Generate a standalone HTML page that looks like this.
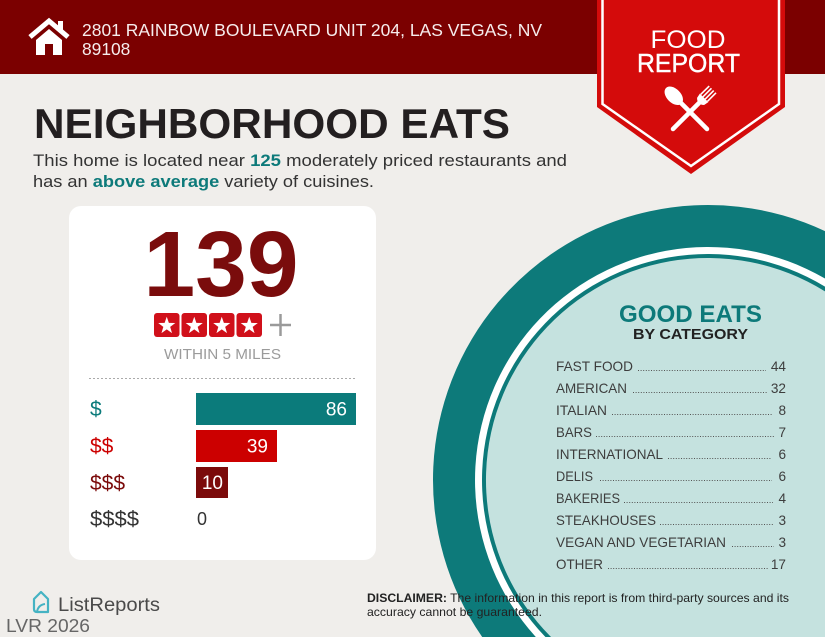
<!DOCTYPE html>
<html><head><meta charset="utf-8"><style>
html,body{margin:0;padding:0;background:#f0eeeb;width:825px;height:637px;overflow:hidden;}
svg{display:block;font-family:"Liberation Sans",sans-serif;}
</style></head><body>
<svg width="825" height="637" viewBox="0 0 825 637" xmlns="http://www.w3.org/2000/svg">
<rect x="0" y="0" width="825" height="637" fill="#f0eeeb"/>
<!-- circle (clipped to frame) -->
<path d="M825,231.13 A275,275 0 0 0 482.22,637 L825,637 Z" fill="#0d7a7a"/>
<path d="M825,278.51 A233,233 0 0 0 535.84,637 L825,637 Z" fill="#ffffff"/>
<path d="M825,286.64 A226,226 0 0 0 545.44,637 L825,637 Z" fill="#0d7a7a"/>
<path d="M825,291.33 A222,222 0 0 0 551.04,637 L825,637 Z" fill="#c5e2df"/>
<!-- header -->
<rect x="0" y="0" width="825" height="74" fill="#7b0000"/>
<!-- house icon -->
<polyline points="30,37 49,21 68,37" fill="none" stroke="#fff" stroke-width="5"/>
<rect x="58" y="21" width="5" height="9" fill="#fff"/>
<polygon points="36,40 49,29 62,40 62,55 53,55 53,44 45,44 45,55 36,55" fill="#fff"/>
<text x="82" y="36" font-size="17.4" fill="#f6ecec" textLength="460" lengthAdjust="spacingAndGlyphs">2801 RAINBOW BOULEVARD UNIT 204, LAS VEGAS, NV</text>
<text x="82" y="55" font-size="17.4" fill="#f6ecec">89108</text>
<!-- banner -->
<polygon points="597,0 785,0 785,107 691,174 597,107" fill="#d40b0b"/>
<polyline points="602.5,0 602.5,104 691,166 779,104 779,0" fill="none" stroke="#fff" stroke-width="2.5"/>
<text x="688" y="48" font-size="25" fill="#fff" text-anchor="middle" textLength="75" lengthAdjust="spacingAndGlyphs">FOOD</text>
<text x="688.5" y="72" font-size="25.5" fill="#fff" text-anchor="middle" textLength="103" lengthAdjust="spacingAndGlyphs" stroke="#fff" stroke-width="0.4">REPORT</text>
<!-- spoon -->
<g transform="translate(707,129) rotate(-45)" fill="#fff">
<line x1="0" y1="0" x2="0" y2="-38" stroke="#fff" stroke-width="4.5" stroke-linecap="round"/>
<ellipse cx="0" cy="-47" rx="7" ry="11"/>
</g>
<!-- fork -->
<g transform="translate(673,129) rotate(45)" fill="#fff" stroke="#fff">
<line x1="0" y1="0" x2="0" y2="-38" stroke-width="4.5" stroke-linecap="round"/>
<path d="M-6,-44 L6,-44 L5,-39 Q0,-34 -5,-39 Z" stroke="none"/>
<line x1="-4.8" y1="-44" x2="-4.8" y2="-56" stroke-width="1.6"/>
<line x1="-1.6" y1="-44" x2="-1.6" y2="-56" stroke-width="1.6"/>
<line x1="1.6" y1="-44" x2="1.6" y2="-56" stroke-width="1.6"/>
<line x1="4.8" y1="-44" x2="4.8" y2="-56" stroke-width="1.6"/>
</g>
<!-- title -->
<text x="34" y="138" font-size="42" font-weight="bold" fill="#231f20" textLength="476" lengthAdjust="spacingAndGlyphs">NEIGHBORHOOD EATS</text>
<text x="33" y="166" font-size="17" fill="#333" textLength="534" lengthAdjust="spacingAndGlyphs">This home is located near <tspan font-weight="bold" fill="#0d7a7a">125</tspan> moderately priced restaurants and</text>
<text x="33" y="187" font-size="17" fill="#333" textLength="341" lengthAdjust="spacingAndGlyphs">has an <tspan font-weight="bold" fill="#0d7a7a">above average</tspan> variety of cuisines.</text>
<!-- card -->
<rect x="69" y="206" width="307" height="354" rx="12" fill="#ffffff"/>
<text x="221" y="296" font-size="93" font-weight="bold" fill="#7a0c0c" text-anchor="middle" textLength="155" lengthAdjust="spacingAndGlyphs">139</text>
<g fill="#d0101a">
<rect x="154" y="313" width="25.5" height="24" rx="3"/>
<rect x="181.5" y="313" width="25.5" height="24" rx="3"/>
<rect x="209" y="313" width="25.5" height="24" rx="3"/>
<rect x="236.5" y="313" width="25.5" height="24" rx="3"/>
</g>
<g fill="#fff">
<polygon transform="translate(166.75,325.8)" points="0,-9 2.12,-2.91 8.56,-2.78 3.42,1.11 5.29,7.28 0,3.6 -5.29,7.28 -3.42,1.11 -8.56,-2.78 -2.12,-2.91"/>
<polygon transform="translate(194.25,325.8)" points="0,-9 2.12,-2.91 8.56,-2.78 3.42,1.11 5.29,7.28 0,3.6 -5.29,7.28 -3.42,1.11 -8.56,-2.78 -2.12,-2.91"/>
<polygon transform="translate(221.75,325.8)" points="0,-9 2.12,-2.91 8.56,-2.78 3.42,1.11 5.29,7.28 0,3.6 -5.29,7.28 -3.42,1.11 -8.56,-2.78 -2.12,-2.91"/>
<polygon transform="translate(249.25,325.8)" points="0,-9 2.12,-2.91 8.56,-2.78 3.42,1.11 5.29,7.28 0,3.6 -5.29,7.28 -3.42,1.11 -8.56,-2.78 -2.12,-2.91"/>
</g>
<line x1="270" y1="325" x2="291" y2="325" stroke="#9a9a9a" stroke-width="2.5"/>
<line x1="280.5" y1="314" x2="280.5" y2="336" stroke="#9a9a9a" stroke-width="2.5"/>
<text x="222.5" y="359" font-size="15" fill="#9b9b9b" text-anchor="middle" textLength="117" lengthAdjust="spacingAndGlyphs">WITHIN 5 MILES</text>
<line x1="89" y1="378.5" x2="356" y2="378.5" stroke="#aaa" stroke-width="1" stroke-dasharray="2 2"/>
<!-- bars -->
<rect x="196" y="393" width="160" height="32" fill="#0b7b7b"/>
<rect x="196" y="430" width="81" height="32" fill="#cc0000"/>
<rect x="196" y="467" width="32" height="31" fill="#7b0a0a"/>
<text x="347" y="415.5" font-size="19" fill="#fff" text-anchor="end">86</text>
<text x="268" y="452.5" font-size="19" fill="#fff" text-anchor="end">39</text>
<text x="223" y="489" font-size="19" fill="#fff" text-anchor="end">10</text>
<text x="197" y="525" font-size="18" fill="#333">0</text>
<text x="90" y="416" font-size="21" fill="#0b7b7b">$</text>
<text x="90" y="453" font-size="21" fill="#cc0000">$$</text>
<text x="90" y="490" font-size="21" fill="#7b0a0a">$$$</text>
<text x="90" y="526" font-size="21" fill="#333" textLength="49" lengthAdjust="spacingAndGlyphs">$$$$</text>
<!-- good eats -->
<text x="690.5" y="322" font-size="24" font-weight="bold" fill="#0d7a7a" text-anchor="middle" textLength="143" lengthAdjust="spacingAndGlyphs">GOOD EATS</text>
<text x="690.5" y="339" font-size="15" font-weight="bold" fill="#222" text-anchor="middle" textLength="115" lengthAdjust="spacingAndGlyphs">BY CATEGORY</text>
<g font-size="13.6" fill="#3d3d3d">
<text x="556" y="371" textLength="77" lengthAdjust="spacingAndGlyphs">FAST FOOD</text>
<text x="786" y="371" text-anchor="end">44</text>
<text x="556" y="393" textLength="71" lengthAdjust="spacingAndGlyphs">AMERICAN</text>
<text x="786" y="393" text-anchor="end">32</text>
<text x="556" y="415" textLength="51" lengthAdjust="spacingAndGlyphs">ITALIAN</text>
<text x="786" y="415" text-anchor="end">8</text>
<text x="556" y="437" textLength="36" lengthAdjust="spacingAndGlyphs">BARS</text>
<text x="786" y="437" text-anchor="end">7</text>
<text x="556" y="459" textLength="107" lengthAdjust="spacingAndGlyphs">INTERNATIONAL</text>
<text x="786" y="459" text-anchor="end">6</text>
<text x="556" y="481" textLength="37" lengthAdjust="spacingAndGlyphs">DELIS</text>
<text x="786" y="481" text-anchor="end">6</text>
<text x="556" y="503" textLength="64" lengthAdjust="spacingAndGlyphs">BAKERIES</text>
<text x="786" y="503" text-anchor="end">4</text>
<text x="556" y="525" textLength="100" lengthAdjust="spacingAndGlyphs">STEAKHOUSES</text>
<text x="786" y="525" text-anchor="end">3</text>
<text x="556" y="547" textLength="170" lengthAdjust="spacingAndGlyphs">VEGAN AND VEGETARIAN</text>
<text x="786" y="547" text-anchor="end">3</text>
<text x="556" y="569" textLength="47" lengthAdjust="spacingAndGlyphs">OTHER</text>
<text x="786" y="569" text-anchor="end">17</text>
</g>
<g stroke="#555" stroke-width="1" stroke-dasharray="1 1.6">
<line x1="638" y1="370.5" x2="766" y2="370.5"/>
<line x1="633" y1="392.5" x2="767" y2="392.5"/>
<line x1="612" y1="414.5" x2="772" y2="414.5"/>
<line x1="596" y1="436.5" x2="775" y2="436.5"/>
<line x1="668" y1="458.5" x2="772" y2="458.5"/>
<line x1="600" y1="480.5" x2="772" y2="480.5"/>
<line x1="624" y1="502.5" x2="773" y2="502.5"/>
<line x1="660" y1="524.5" x2="773" y2="524.5"/>
<line x1="732" y1="546.5" x2="774" y2="546.5"/>
<line x1="608" y1="568.5" x2="769" y2="568.5"/>
</g>
<!-- disclaimer -->
<text x="367" y="602" font-size="12" fill="#222" textLength="422" lengthAdjust="spacingAndGlyphs"><tspan font-weight="bold">DISCLAIMER:</tspan> The information in this report is from third-party sources and its</text>
<text x="367" y="616" font-size="12" fill="#222" textLength="175" lengthAdjust="spacingAndGlyphs">accuracy cannot be guaranteed.</text>
<!-- logo -->
<path d="M34,599 L41,592 L48,599 L48,612 L37,612 Q34,612 34,609 Z" fill="none" stroke="#45b3c3" stroke-width="2.2" stroke-linejoin="round"/>
<path d="M37,612 Q38,605 45,604" fill="none" stroke="#45b3c3" stroke-width="2"/>
<text x="58" y="611" font-size="19" fill="#4a4a4a" textLength="102" lengthAdjust="spacingAndGlyphs">ListReports</text>
<text x="6" y="632" font-size="18" fill="#666" textLength="84" lengthAdjust="spacingAndGlyphs">LVR 2026</text>
</svg>
</body></html>
